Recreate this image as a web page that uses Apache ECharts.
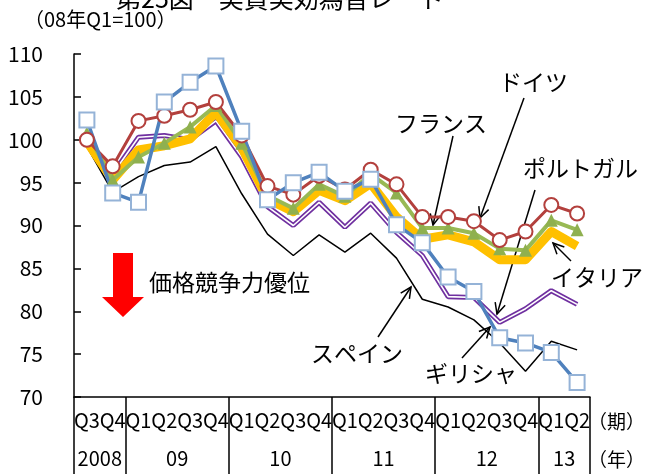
<!DOCTYPE html>
<html>
<head>
<meta charset="utf-8">
<script src="https://cdn.jsdelivr.net/npm/echarts@6/dist/echarts.min.js"></script>
<style>
html,body{margin:0;padding:0;background:#fff}
#main{width:647px;height:474px}
</style>
</head>
<body>
<div id="main"></div>
<script>
// 四半期ラベル（08年Q3～13年Q2）
var quarters = ['Q3','Q4','Q1','Q2','Q3','Q4','Q1','Q2','Q3','Q4','Q1','Q2','Q3','Q4','Q1','Q2','Q3','Q4','Q1','Q2'];
var yearLabels = ['2008','09','10','11','12','13'];
var yearCenters = [1, 4, 8, 12, 16, 19];
var yearBounds = [0, 2, 6, 10, 14, 18, 20];
var yTicks = [70, 75, 80, 85, 90, 95, 100, 105, 110];

// 実質実効為替レート (08年Q1=100)
var germany  = [100.0, 96.9, 102.2, 102.8, 103.5, 104.4, 100.5, 94.6, 93.6, 95.8, 94.2, 96.5, 94.8, 91.0, 91.0, 90.5, 88.3, 89.3, 92.4, 91.4];
var france   = [100.8, 95.3, 98.0, 99.6, 101.5, 104.0, 99.6, 93.5, 92.0, 94.8, 93.4, 96.0, 93.8, 89.7, 89.7, 89.1, 87.3, 87.1, 90.6, 89.5];
var italy    = [99.8, 95.3, 98.8, 99.3, 100.1, 103.2, 99.1, 93.1, 91.6, 94.1, 92.9, 94.9, 91.0, 88.4, 88.9, 88.1, 86.0, 86.0, 89.3, 87.6];
var portugal = [99.9, 96.0, 100.3, 100.5, 100.0, 102.2, 98.0, 92.2, 90.0, 92.7, 89.8, 92.6, 89.2, 86.5, 81.7, 81.6, 78.7, 80.3, 82.4, 80.8];
var spain    = [99.2, 93.9, 95.7, 97.0, 97.4, 99.2, 93.7, 89.0, 86.5, 88.9, 86.9, 89.1, 86.2, 81.4, 80.5, 79.0, 76.3, 73.0, 76.5, 75.5];
var greece   = [102.3, 93.8, 92.7, 104.4, 106.7, 108.6, 101.0, 93.0, 95.0, 96.2, 94.0, 95.4, 90.1, 88.0, 84.0, 82.3, 76.9, 76.3, 75.2, 71.7];

var FONT = '"Noto Sans CJK JP", "Noto Sans", sans-serif';

// 引き出し線（矢印）
function arrow(x1, y1, x2, y2) {
    var a = Math.atan2(y1 - y2, x1 - x2), len = 12, sp = 0.45;
    return [{
        type: 'line', silent: true,
        shape: {x1: x1, y1: y1, x2: x2, y2: y2},
        style: {stroke: '#000', lineWidth: 1.5}
    }, {
        type: 'polyline', silent: true,
        shape: {points: [
            [x2 + len * Math.cos(a + sp), y2 + len * Math.sin(a + sp)],
            [x2, y2],
            [x2 + len * Math.cos(a - sp), y2 + len * Math.sin(a - sp)]
        ]},
        style: {stroke: '#000', lineWidth: 1.5, fill: null}
    }];
}
function label(text, x, y, size) {
    return {
        type: 'text', silent: true, x: x, y: y,
        style: {text: text, fill: '#000', font: (size || 23) + 'px ' + FONT, textVerticalAlign: 'middle'}
    };
}

var graphics = [
    {type: 'text', silent: true, x: 116, y: 11,
     style: {text: '第25図　実質実効為替レート', fill: '#000', font: '25px ' + FONT, textVerticalAlign: 'bottom'}},
    label('（08年Q1=100）', 24, 19, 20),
    label('（期）', 588, 422, 19),
    label('（年）', 588, 460, 19),
    label('ドイツ', 499, 82),
    label('フランス', 395, 123),
    label('ポルトガル', 523, 168),
    label('イタリア', 551, 277),
    label('スペイン', 311, 353),
    label('ギリシャ', 425, 373),
    label('価格競争力優位', 149, 282),
    {type: 'polygon', silent: true,
     shape: {points: [[113, 253], [133, 253], [133, 297], [144, 297], [123, 317], [102, 297], [113, 297]]},
     style: {fill: '#FF0000'}}
];
graphics = graphics
    .concat(arrow(524, 98, 480, 218))
    .concat(arrow(453, 136, 433, 225))
    .concat(arrow(535, 190, 497, 314))
    .concat(arrow(571, 261, 553, 243))
    .concat(arrow(378, 337, 411, 287))
    .concat(arrow(462, 358, 490, 327));

var myChart = echarts.init(document.getElementById('main'));
var option = {
    backgroundColor: '#FFFFFF',
    animation: false,
    grid: {left: 74, right: 57, top: 54, bottom: 77, containLabel: false},
    xAxis: [{
        type: 'category',
        data: quarters,
        boundaryGap: true,
        axisLine: {lineStyle: {color: '#000', width: 1.5}},
        axisTick: {show: false},
        axisLabel: {interval: 0, color: '#000', fontSize: 20, fontFamily: FONT, margin: 13}
    }, {
        type: 'value',
        min: 0,
        max: 20,
        position: 'bottom',
        axisLine: {show: false},
        splitLine: {show: false},
        axisTick: {show: true, customValues: yearBounds, length: 77, lineStyle: {color: '#000', width: 1.5}},
        axisLabel: {
            customValues: yearCenters,
            color: '#000', fontSize: 20, fontFamily: FONT, margin: 51,
            formatter: function (v) { return yearLabels[yearCenters.indexOf(v)]; }
        }
    }],
    yAxis: {
        type: 'value',
        min: yTicks[0],
        max: yTicks[yTicks.length - 1],
        interval: 5,
        axisLine: {show: true, lineStyle: {color: '#000', width: 1.5}},
        axisTick: {show: true, inside: true, length: 7, lineStyle: {color: '#000', width: 1.5}},
        splitLine: {show: false},
        axisLabel: {color: '#000', fontSize: 21, fontFamily: FONT, margin: 31}
    },
    series: [{
        name: 'スペイン', type: 'line', data: spain, symbol: 'none',
        lineStyle: {color: '#000', width: 1.5}
    }, {
        name: 'ポルトガル', type: 'line', data: portugal, symbol: 'none',
        lineStyle: {color: '#7030A0', width: 5}
    }, {
        name: 'ポルトガル2', type: 'line', data: portugal, symbol: 'none',
        lineStyle: {color: '#FFFFFF', width: 1.6}
    }, {
        name: 'イタリア', type: 'line', data: italy, symbol: 'none',
        lineStyle: {color: '#FFC000', width: 9, join: 'round'}
    }, {
        name: 'フランス', type: 'line', data: france, symbol: 'triangle', symbolSize: 13,
        itemStyle: {color: '#8FB04F'},
        lineStyle: {color: '#98B954', width: 4}
    }, {
        name: 'ドイツ', type: 'line', data: germany, symbol: 'circle', symbolSize: 14,
        itemStyle: {color: '#FFFFFF', borderColor: '#B3403D', borderWidth: 2},
        lineStyle: {color: '#B3403D', width: 3}
    }, {
        name: 'ギリシャ', type: 'line', data: greece, symbol: 'rect', symbolSize: 15,
        itemStyle: {color: '#FFFFFF', borderColor: '#95B3D7', borderWidth: 2},
        lineStyle: {color: '#4F81BD', width: 3.5}
    }],
    graphic: graphics
};
myChart.setOption(option, true);
</script>
</body>
</html>
